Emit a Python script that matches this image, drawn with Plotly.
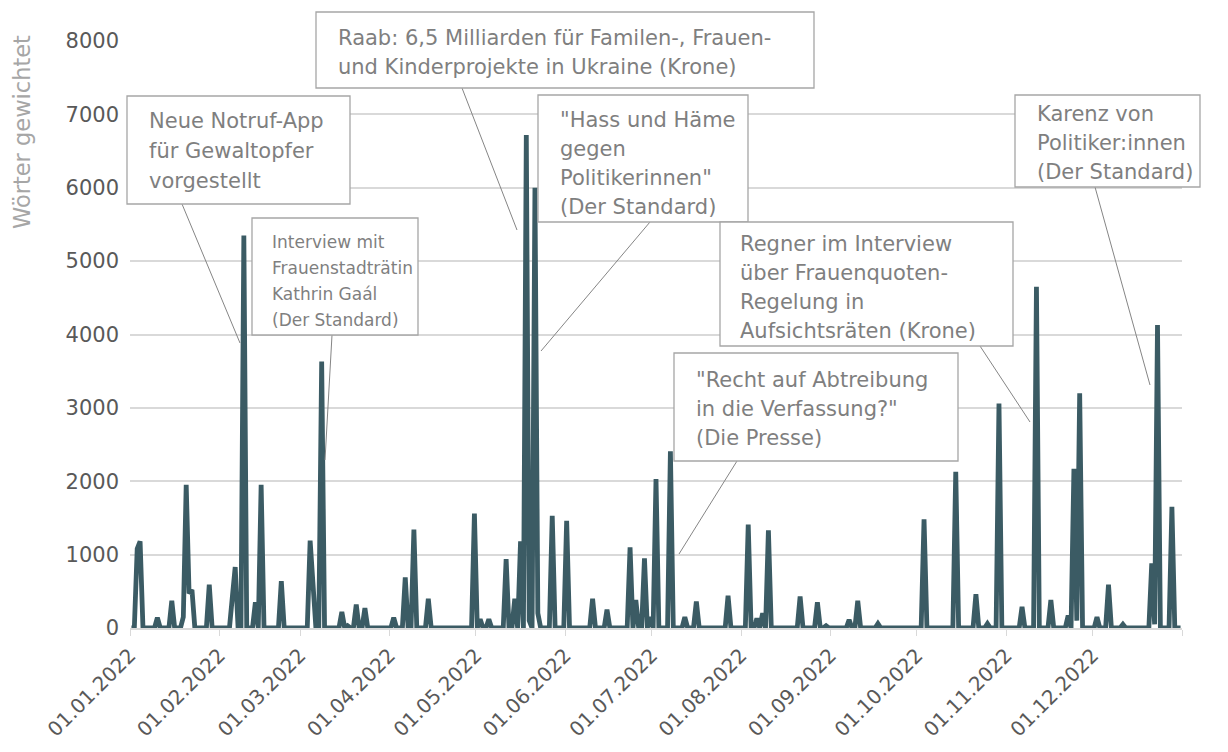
import pandas as pd
import plotly.graph_objects as go

# spikes, every other day of 2022 is 0
spike_dates = [
    "2022-01-03", "2022-01-04", "2022-01-10", "2022-01-15", "2022-01-19", "2022-01-20",
    "2022-01-21", "2022-01-22", "2022-01-28", "2022-02-05", "2022-02-06", "2022-02-09",
    "2022-02-13", "2022-02-15", "2022-02-22", "2022-03-04", "2022-03-05", "2022-03-08",
    "2022-03-15", "2022-03-17", "2022-03-20", "2022-03-23", "2022-04-02", "2022-04-06",
    "2022-04-09", "2022-04-14", "2022-04-30", "2022-05-02", "2022-05-05", "2022-05-11",
    "2022-05-14", "2022-05-16", "2022-05-18", "2022-05-19", "2022-05-21", "2022-05-22",
    "2022-05-27", "2022-06-01", "2022-06-10", "2022-06-15", "2022-06-23", "2022-06-25",
    "2022-06-28", "2022-06-30", "2022-07-02", "2022-07-07", "2022-07-12", "2022-07-16",
    "2022-07-27", "2022-08-03", "2022-08-06", "2022-08-08", "2022-08-10", "2022-08-21",
    "2022-08-27", "2022-08-30", "2022-09-07", "2022-09-10", "2022-09-17", "2022-10-03",
    "2022-10-14", "2022-10-21", "2022-10-25", "2022-10-29", "2022-11-06", "2022-11-11",
    "2022-11-16", "2022-11-22", "2022-11-24", "2022-11-25", "2022-11-26", "2022-12-02",
    "2022-12-06", "2022-12-11", "2022-12-21", "2022-12-22", "2022-12-23", "2022-12-28",
]
spike_values = [
    1080, 1180, 140, 370, 150, 1950,
    470, 520, 590, 420, 830, 5350,
    350, 1950, 640, 1190, 650, 3630,
    220, 30, 320, 270, 140, 690,
    1340, 400, 1560, 120, 120, 940,
    400, 1180, 6720, 100, 6000, 200,
    1530, 1460, 400, 250, 1100, 380,
    950, 150, 2030, 2410, 150, 360,
    440, 1410, 130, 200, 1330, 430,
    350, 30, 110, 370, 60, 1480,
    2130, 460, 60, 3060, 290, 4650,
    380, 170, 2170, 100, 3200, 150,
    590, 50, 880, 50, 4130, 1650,
]

tick_dates = [
    "2022-01-01", "2022-02-01", "2022-03-01", "2022-04-01", "2022-05-01", "2022-06-01",
    "2022-07-01", "2022-08-01", "2022-09-01", "2022-10-01", "2022-11-01", "2022-12-01",
    "2023-01-01",
]
tick_labels = [
    "01.01.2022", "01.02.2022", "01.03.2022", "01.04.2022", "01.05.2022", "01.06.2022",
    "01.07.2022", "01.08.2022", "01.09.2022", "01.10.2022", "01.11.2022", "01.12.2022",
    "",
]
y_title = "Wörter gewichtet"

days = pd.date_range("2022-01-01", "2022-12-31", freq="D")
series = pd.Series(0.0, index=days)
series[pd.to_datetime(spike_dates)] = spike_values

# plot area in screenshot pixels; the page body adds an 8px offset
OFF = 8
W, H = 1228, 752
L, R, T, B = 130, 1182, 41, 628


def px(x):
    return (x - L) / (R - L)


def py(y):
    return (B - y) / (B - T)


callouts = [
    dict(lines=["Neue Notruf-App", "für Gewaltopfer", "vorgestellt"],
         box=(127, 96, 350, 204), tx=147, ty=121, gap=30, size=21,
         leader=(182, 204, 240, 343)),
    dict(lines=["Interview mit", "Frauenstadträtin", "Kathrin Gaál", "(Der Standard)"],
         box=(252, 218, 418, 335), tx=270, ty=242, gap=26, size=17,
         leader=(332, 335, 325, 460)),
    dict(lines=["Raab: 6,5 Milliarden für Familen-, Frauen-",
                "und Kinderprojekte in Ukraine (Krone)"],
         box=(316, 12, 814, 88), tx=336, ty=38, gap=29, size=21,
         leader=(462, 88, 517, 230)),
    dict(lines=['"Hass und Häme', "gegen", 'Politikerinnen"', "(Der Standard)"],
         box=(538, 95, 748, 222), tx=558, ty=120, gap=29, size=21,
         leader=(650, 222, 541, 351)),
    dict(lines=["Regner im Interview", "über Frauenquoten-", "Regelung in",
                "Aufsichtsräten (Krone)"],
         box=(720, 222, 1013, 346), tx=738, ty=244, gap=29, size=21,
         leader=(980, 346, 1030, 422)),
    dict(lines=['"Recht auf Abtreibung', 'in die Verfassung?"', "(Die Presse)"],
         box=(674, 353, 958, 461), tx=694, ty=380, gap=29, size=21,
         leader=(737, 461, 679, 554)),
    dict(lines=["Karenz von", "Politiker:innen", "(Der Standard)"],
         box=(1015, 95, 1200, 187), tx=1035, ty=114, gap=29, size=21,
         leader=(1095, 187, 1150, 385)),
]

fig = go.Figure()
fig.add_trace(go.Scatter(
    x=series.index,
    y=series.values,
    mode="lines",
    line=dict(color="#3b5b64", width=4.8),
    xperiod=86400000,
    xperiodalignment="middle",
    cliponaxis=False,
    hoverinfo="skip",
))

shapes = []
annotations = []
for c in callouts:
    x0, y0, x1, y1 = c["leader"]
    shapes.append(dict(type="line", xref="paper", yref="paper",
                       x0=px(x0), y0=py(y0), x1=px(x1), y1=py(y1),
                       line=dict(color="#858585", width=1), layer="above"))
    bx0, by0, bx1, by1 = c["box"]
    shapes.append(dict(type="rect", xref="paper", yref="paper",
                       x0=px(bx0), y0=py(by0), x1=px(bx1), y1=py(by1),
                       line=dict(color="#a6a6a6", width=1.3),
                       fillcolor="white", layer="above"))
    for i, t in enumerate(c["lines"]):
        annotations.append(dict(
            xref="paper", yref="paper", x=px(c["tx"]), y=py(c["ty"] + i * c["gap"]),
            xanchor="left", yanchor="middle", text=t, showarrow=False,
            font=dict(family="DejaVu Sans", size=c["size"], color="#7f7f7f"),
        ))

annotations.append(dict(
    xref="paper", yref="paper", x=px(22), y=py(132), text=y_title,
    textangle=-90, showarrow=False, xanchor="center", yanchor="middle",
    font=dict(family="DejaVu Sans", size=22.5, color="#a6a6a6"),
))

fig.update_layout(
    width=W,
    height=H,
    margin=dict(l=L - OFF, r=W - (R - OFF), t=T - OFF, b=H - (B - OFF)),
    plot_bgcolor="white",
    paper_bgcolor="white",
    showlegend=False,
    font=dict(family="DejaVu Sans", size=20, color="#595959"),
    shapes=shapes,
    annotations=annotations,
)
fig.update_xaxes(
    type="date",
    range=["2022-01-01", "2023-01-01"],
    tickvals=tick_dates,
    ticktext=tick_labels,
    tickangle=-45,
    ticks="outside",
    ticklen=6,
    tickcolor="#d9d9d9",
    showline=True,
    linecolor="#d9d9d9",
    linewidth=1.5,
    showgrid=False,
    zeroline=False,
    tickfont=dict(size=20, color="#595959"),
)
fig.update_yaxes(
    range=[0, 8000],
    dtick=1000,
    showgrid=True,
    gridcolor="#d9d9d9",
    gridwidth=1.5,
    zeroline=False,
    showline=False,
    ticks="",
    ticklabelstandoff=10,
    tickfont=dict(size=21, color="#595959"),
)

fig.write_html("out.html")
